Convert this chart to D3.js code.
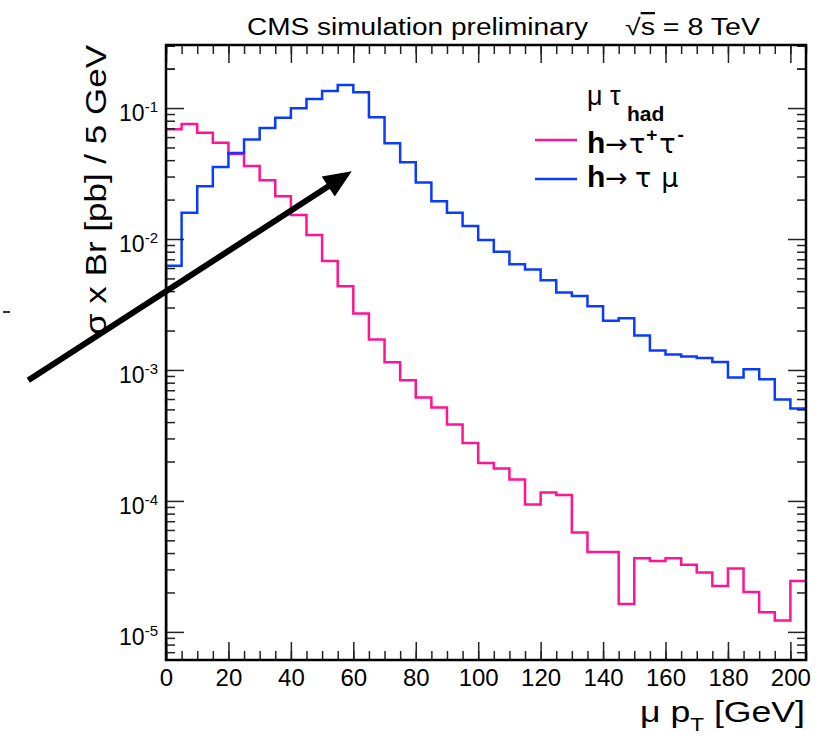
<!DOCTYPE html>
<html>
<head>
<meta charset="utf-8">
<script src="https://cdn.jsdelivr.net/npm/d3@7"></script>
<style>
body { margin: 0; background: #fff; overflow: hidden; }
svg { display: block; }
text { font-family: "Liberation Sans", Arial, Helvetica, sans-serif; fill: #000; }
</style>
</head>
<body>
<div class="chart"></div>
<script>
const width = 819
const height = 739
const margin = { top: 45, right: 13, bottom: 79, left: 166 }
const innerWidth = width - margin.left - margin.right
const innerHeight = height - margin.top - margin.bottom

// lower bin edges, 5 GeV bins
const binLow = [0, 5, 10, 15, 20, 25, 30, 35, 40, 45, 50, 55, 60, 65, 70, 75, 80, 85, 90, 95,
    100, 105, 110, 115, 120, 125, 130, 135, 140, 145, 150, 155, 160, 165, 170, 175, 180, 185, 190, 195, 200]
const binHigh = 205

// h -> tau tau
const tauTau = [0.0688, 0.0755, 0.0649, 0.0544, 0.0446, 0.0361, 0.0281, 0.0212, 0.01525, 0.01073,
    0.00679, 0.00435, 0.00270, 0.00171, 0.001145, 0.000834, 0.000616, 0.000516, 0.000383, 0.000277,
    0.000195, 0.000177, 0.0001457, 0.0000939, 0.0001159, 0.0001111, 0.0000574, 0.0000408, 0.0000408, 0.0000163,
    0.0000365, 0.0000348, 0.0000365, 0.0000325, 0.0000284, 0.0000224, 0.0000305, 0.0000202, 0.0000141, 0.0000122,
    0.0000245]

// h -> tau mu
const tauMu = [0.00626, 0.0159, 0.0253, 0.0354, 0.0453, 0.0574, 0.0704, 0.0845, 0.0995, 0.1171,
    0.1349, 0.1498, 0.1318, 0.0849, 0.0538, 0.0385, 0.0270, 0.0194, 0.0159, 0.01257,
    0.00983, 0.00801, 0.00641, 0.00584, 0.00484, 0.00390, 0.00367, 0.00306, 0.00238, 0.00248,
    0.00183, 0.001406, 0.001311, 0.001266, 0.001235, 0.001151, 0.000875, 0.001012, 0.000849, 0.000594,
    0.000508]

const xTicks = [0, 20, 40, 60, 80, 100, 120, 140, 160, 180, 200]
const xMinorTicks = binLow.concat([binHigh])

// arrow annotation, in data units
const arrowFrom = [-44.1, 0.000834]
const arrowTo = [59.5, 0.0329]

const pinkColor = "#ff1493"
const blueColor = "#0a3cff"

const svg = d3.select(".chart")
    .append("svg")
    .attr("width", width)
    .attr("height", height)

const g = svg.append("g")
    .attr("transform", "translate(" + margin.left + "," + margin.top + ")")

const xScale = d3.scaleLinear()
    .domain([0, 205])
    .range([0, innerWidth])

const yScale = d3.scaleLog()
    .domain([6.1e-6, 0.303])
    .range([innerHeight, 0])

svg.append("defs").append("clipPath")
    .attr("id", "plot-clip")
    .append("rect")
    .attr("width", innerWidth)
    .attr("height", innerHeight)

// histograms
function histPoints(values) {
    const pts = [[0, yScale.domain()[0]]]
    binLow.forEach((b, i) => pts.push([b, values[i]]))
    pts.push([binHigh, values[values.length - 1]])
    return pts
}

const stepLine = d3.line()
    .curve(d3.curveStepAfter)
    .x(d => xScale(d[0]))
    .y(d => yScale(d[1]))

const plot = g.append("g").attr("clip-path", "url(#plot-clip)")

plot.append("path")
    .attr("d", stepLine(histPoints(tauTau)))
    .attr("fill", "none")
    .attr("stroke", pinkColor)
    .attr("stroke-width", 2.5)

plot.append("path")
    .attr("d", stepLine(histPoints(tauMu)))
    .attr("fill", "none")
    .attr("stroke", blueColor)
    .attr("stroke-width", 2.5)

// axes, ticks pointing inward
const yMajor = yScale.ticks().filter(d => Math.abs(Math.log10(d) - Math.round(Math.log10(d))) < 1e-6)
const yMinor = yScale.ticks().filter(d => !yMajor.includes(d)).concat([0.2, 0.3])

function styleAxis(sel) {
    sel.select(".domain").remove()
    sel.selectAll(".tick line").attr("stroke", "#222").attr("stroke-width", 1.5)
}

function ticksOnly(sel) {
    styleAxis(sel)
    sel.selectAll(".tick text").remove()
}

g.append("g")
    .attr("transform", "translate(0," + innerHeight + ")")
    .call(d3.axisBottom(xScale).tickValues(xMinorTicks).tickSize(-9))
    .call(ticksOnly)

g.append("g")
    .attr("transform", "translate(0," + innerHeight + ")")
    .call(d3.axisBottom(xScale).tickValues(xTicks).tickSize(-18).tickPadding(9))
    .call(styleAxis)
    .selectAll(".tick text")
        .attr("font-size", "24px")
        .attr("font-family", "Liberation Sans, Arial, sans-serif")

g.append("g")
    .call(d3.axisTop(xScale).tickValues(xMinorTicks).tickSize(-9))
    .call(ticksOnly)

g.append("g")
    .call(d3.axisTop(xScale).tickValues(xTicks).tickSize(-18))
    .call(ticksOnly)

g.append("g")
    .call(d3.axisLeft(yScale).tickValues(yMinor).tickSize(-9))
    .call(ticksOnly)

const yLeft = g.append("g")
    .call(d3.axisLeft(yScale).tickValues(yMajor).tickSize(-18).tickPadding(8))
    .call(styleAxis)

yLeft.selectAll(".tick text")
    .attr("dy", "0.55em")
    .attr("font-size", "23px")
    .attr("font-family", "Liberation Sans, Arial, sans-serif")
    .each(function(d) {
        const t = d3.select(this)
        t.text(null)
        t.append("tspan").text("10")
        t.append("tspan").attr("dy", "-0.62em").attr("font-size", "15px").text(Math.round(Math.log10(d)))
    })

g.append("g")
    .attr("transform", "translate(" + innerWidth + ",0)")
    .call(d3.axisRight(yScale).tickValues(yMinor).tickSize(-9))
    .call(ticksOnly)

g.append("g")
    .attr("transform", "translate(" + innerWidth + ",0)")
    .call(d3.axisRight(yScale).tickValues(yMajor).tickSize(-18))
    .call(ticksOnly)

// frame
g.append("rect")
    .attr("width", innerWidth)
    .attr("height", innerHeight)
    .attr("fill", "none")
    .attr("stroke", "#000")
    .attr("stroke-width", 2.5)

// title
svg.append("text")
    .attr("x", 247)
    .attr("y", 35)
    .attr("font-size", "23px")
    .attr("textLength", 341)
    .attr("lengthAdjust", "spacingAndGlyphs")
    .text("CMS simulation preliminary")

const sqrtText = svg.append("text")
    .attr("x", 625)
    .attr("y", 35)
    .attr("font-size", "23px")
    .attr("textLength", 135)
    .attr("lengthAdjust", "spacingAndGlyphs")
sqrtText.append("tspan").text("\u221A")
sqrtText.append("tspan").style("text-decoration", "overline").text("s")
sqrtText.append("tspan").text(" = 8 TeV")

// axis titles
svg.append("text")
    .attr("transform", "translate(106,190) rotate(-90)")
    .attr("text-anchor", "middle")
    .attr("font-size", "30px")
    .attr("textLength", 290)
    .attr("lengthAdjust", "spacingAndGlyphs")
    .text("\u03C3 x Br [pb] / 5 GeV")

const xTitle = svg.append("text")
    .attr("x", 640)
    .attr("y", 722)
    .attr("font-size", "30px")
    .attr("textLength", 165)
    .attr("lengthAdjust", "spacingAndGlyphs")
xTitle.append("tspan").text("\u03BC p")
xTitle.append("tspan").attr("dy", 9).attr("font-size", "19px").text("T")
xTitle.append("tspan").attr("dy", -9).text(" [GeV]")

// small stray mark at the far left
svg.append("line")
    .attr("x1", 3).attr("x2", 10)
    .attr("y1", 312).attr("y2", 312)
    .attr("stroke", "#333")
    .attr("stroke-width", 2)

// legend
const greek = "DejaVu Sans"

const header = svg.append("text")
    .attr("x", 587)
    .attr("y", 105)
    .attr("font-size", "27px")
header.append("tspan").text("\u03BC \u03C4")
header.append("tspan")
    .attr("x", 627)
    .attr("y", 121)
    .attr("font-size", "21px")
    .attr("font-weight", "bold")
    .text("had")

const legendItems = [
    { color: pinkColor, y: 140 },
    { color: blueColor, y: 179 }
]

svg.selectAll(".legend-line")
    .data(legendItems)
    .join("line")
    .attr("class", "legend-line")
    .attr("x1", 535)
    .attr("x2", 577)
    .attr("y1", d => d.y)
    .attr("y2", d => d.y)
    .attr("stroke", d => d.color)
    .attr("stroke-width", 2.5)

const l1 = svg.append("text").attr("x", 587).attr("y", 153).attr("font-size", "30px")
l1.append("tspan").attr("font-weight", "bold").text("h")
l1.append("tspan").style("font-family", greek).attr("font-size", "27px").text("\u2192")
l1.append("tspan").attr("dx", 1).style("font-family", greek).attr("font-size", "27px").text("\u03C4")
l1.append("tspan").attr("dy", -12).attr("dx", 1).attr("font-size", "19px").attr("font-weight", "bold").text("+")
l1.append("tspan").attr("dy", 12).attr("dx", 2).style("font-family", greek).attr("font-size", "27px").text("\u03C4")
l1.append("tspan").attr("dy", -12).attr("dx", 2).attr("font-size", "19px").attr("font-weight", "bold").text("-")

const l2 = svg.append("text").attr("x", 587).attr("y", 187).attr("font-size", "30px")
l2.append("tspan").attr("font-weight", "bold").text("h")
l2.append("tspan").style("font-family", greek).attr("font-size", "27px").text("\u2192")
l2.append("tspan").attr("dx", 7).style("font-family", greek).attr("font-size", "27px").text("\u03C4")
l2.append("tspan").attr("dx", 10).style("font-family", greek).attr("font-size", "27px").text("\u03BC")

// arrow
const p0 = [margin.left + xScale(arrowFrom[0]), margin.top + yScale(arrowFrom[1])]
const p1 = [margin.left + xScale(arrowTo[0]), margin.top + yScale(arrowTo[1])]
const ang = Math.atan2(p1[1] - p0[1], p1[0] - p0[0])
const headLen = 28
const headHalf = 12
const lineEnd = [p1[0] - Math.cos(ang) * (headLen - 4), p1[1] - Math.sin(ang) * (headLen - 4)]

svg.append("line")
    .attr("x1", p0[0])
    .attr("y1", p0[1])
    .attr("x2", lineEnd[0])
    .attr("y2", lineEnd[1])
    .attr("stroke", "#000")
    .attr("stroke-width", 6)

const bx = p1[0] - Math.cos(ang) * headLen
const by = p1[1] - Math.sin(ang) * headLen
svg.append("path")
    .attr("d", d3.line()([
        p1,
        [bx - Math.sin(ang) * headHalf, by + Math.cos(ang) * headHalf],
        [bx + Math.sin(ang) * headHalf, by - Math.cos(ang) * headHalf]
    ]) + "Z")
    .attr("fill", "#000")
</script>
</body>
</html>
